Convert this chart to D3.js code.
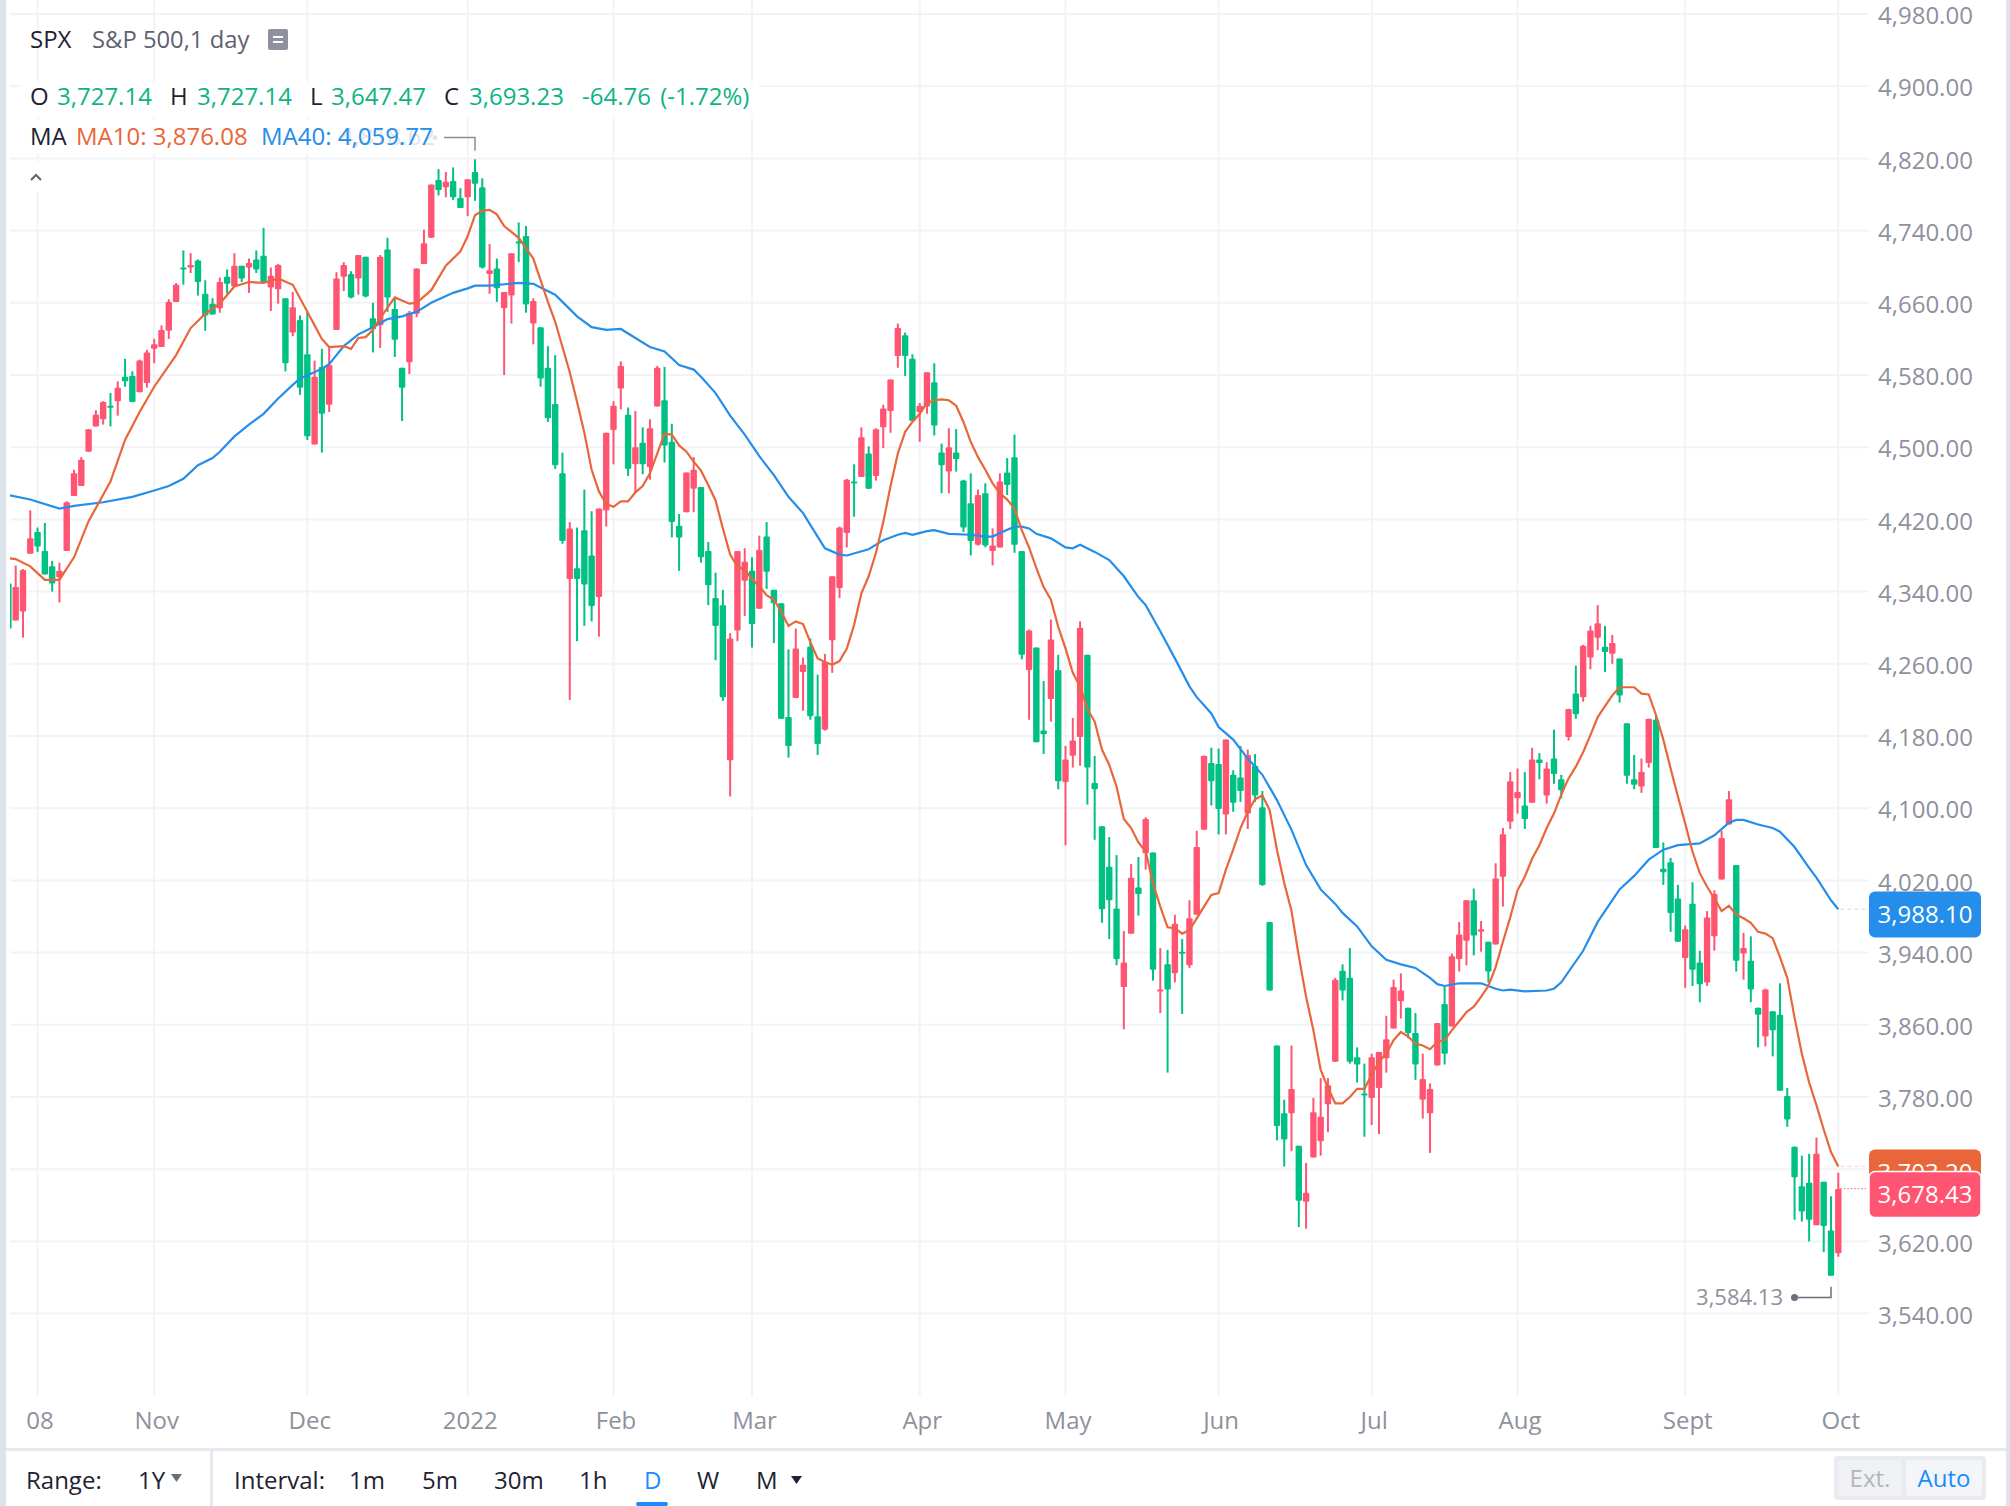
<!DOCTYPE html>
<html><head><meta charset="utf-8">
<style>html,body{margin:0;padding:0;background:#fff;overflow:hidden}svg{display:block}text{font-family:"Open Sans",sans-serif}</style>
<script src="https://cdnjs.cloudflare.com/ajax/libs/d3/7.8.5/d3.min.js"></script>
</head><body><svg id="c" width="2010" height="1506"></svg>
<script>
const opens=[4349,4308,4318,4382,4406,4385,4368,4356,4385,4446,4457,4495,4523,4531,4546,4551,4578,4579,4561,4571,4609,4611,4629,4661,4699,4699,4707,4670,4659,4654,4689,4678,4701,4699,4708,4712,4677,4675,4665,4627,4641,4603,4503,4589,4547,4630,4689,4692,4687,4711,4643,4635,4719,4653,4588,4594,4648,4703,4732,4796,4788,4795,4776,4777,4805,4788,4692,4698,4654,4668,4728,4734,4637,4633,4588,4548,4471,4354,4366,4408,4380,4334,4430,4519,4565,4536,4481,4505,4478,4545,4552,4506,4413,4428,4454,4456,4385,4333,4325,4153,4297,4352,4363,4321,4401,4342,4327,4201,4222,4251,4279,4202,4187,4286,4344,4405,4462,4467,4493,4468,4522,4540,4601,4624,4598,4539,4545,4572,4494,4473,4494,4463,4438,4392,4449,4385,4389,4472,4489,4385,4253,4278,4186,4221,4253,4129,4158,4179,4270,4128,4080,4035,3989,3902,3961,4012,4050,4051,3897,3927,3917,3941,3926,3982,4076,4150,4149,4093,4137,4134,4094,4147,4101,3974,3837,3762,3762,3726,3664,3713,3731,3772,3819,3920,3912,3824,3784,3779,3790,3823,3856,3886,3879,3851,3777,3762,3815,3883,3858,3933,3953,3998,3963,3952,3949,4024,4085,4111,4103,4106,4154,4114,4155,4132,4179,4227,4223,4267,4289,4279,4271,4266,4194,4132,4124,4150,4198,4033,4040,4000,3934,3994,3929,3907,3958,4021,4082,4037,3939,3931,3879,3847,3875,3871,3781,3725,3681,3685,3638,3686,3632,3607];
const closes=[4299,4345,4364,4399,4390,4359,4349,4363,4439,4471,4486,4520,4536,4550,4544,4566,4573,4550,4596,4605,4614,4630,4661,4680,4697,4702,4683,4646,4647,4683,4681,4701,4687,4704,4697,4683,4690,4702,4593,4655,4566,4512,4578,4537,4591,4687,4702,4666,4713,4667,4631,4711,4666,4619,4566,4649,4698,4726,4791,4785,4794,4777,4765,4797,4792,4699,4696,4676,4672,4715,4726,4658,4662,4576,4532,4480,4396,4410,4354,4348,4324,4432,4516,4546,4590,4476,4500,4481,4521,4588,4502,4417,4400,4472,4475,4378,4347,4302,4223,4288,4385,4373,4304,4386,4362,4327,4199,4169,4277,4259,4202,4171,4262,4357,4411,4464,4460,4511,4454,4520,4543,4575,4632,4601,4529,4546,4583,4524,4480,4500,4487,4411,4396,4447,4391,4391,4462,4458,4392,4270,4297,4173,4182,4287,4130,4154,4175,4300,4145,4121,3988,3998,3933,3929,4023,4005,4088,3921,3899,3899,3972,3939,3978,4057,4158,4130,4099,4176,4106,4119,4159,4114,4015,3898,3748,3733,3789,3665,3674,3763,3758,3793,3910,3898,3819,3816,3783,3824,3830,3844,3902,3898,3851,3816,3800,3789,3862,3828,3936,3960,3998,3959,3966,3919,4022,4071,4130,4118,4088,4154,4150,4144,4138,4120,4210,4204,4280,4297,4305,4273,4283,4225,4136,4126,4140,4199,4056,4029,3984,3952,3966,3921,3905,3979,4005,4067,4110,3931,3945,3899,3871,3899,3854,3787,3755,3691,3653,3644,3717,3637,3582,3678];
const highs=[4349,4369,4365,4430,4411,4416,4374,4372,4440,4475,4489,4520,4541,4551,4560,4573,4598,4584,4597,4608,4620,4635,4664,4682,4718,4715,4708,4685,4665,4688,4697,4715,4701,4709,4718,4743,4699,4703,4665,4672,4646,4651,4596,4609,4611,4694,4705,4695,4713,4711,4660,4713,4732,4665,4588,4651,4698,4741,4791,4808,4805,4810,4787,4797,4819,4798,4725,4709,4672,4715,4749,4745,4665,4633,4612,4602,4494,4417,4411,4453,4429,4432,4516,4551,4595,4544,4540,4522,4531,4590,4589,4526,4426,4472,4489,4456,4395,4361,4342,4294,4385,4388,4378,4402,4417,4342,4327,4276,4299,4267,4288,4248,4271,4357,4412,4465,4481,4522,4501,4521,4547,4575,4637,4627,4603,4549,4583,4593,4504,4521,4520,4464,4471,4453,4460,4410,4471,4488,4514,4385,4298,4278,4241,4309,4270,4169,4200,4307,4270,4158,4080,4068,4048,3964,4038,4046,4090,4051,3945,3943,3982,3955,3998,4075,4158,4167,4166,4176,4142,4169,4165,4160,4119,3974,3837,3777,3837,3726,3707,3779,3801,3801,3912,3927,3945,3835,3817,3828,3830,3870,3910,3917,3879,3873,3828,3795,3862,3902,3939,3974,3998,4011,3975,3952,4039,4078,4140,4144,4140,4167,4161,4151,4187,4137,4210,4258,4281,4302,4325,4302,4292,4266,4194,4159,4155,4199,4203,4062,4045,4015,3970,4018,3942,3986,4009,4075,4119,4037,3962,3958,3879,3900,3875,3906,3790,3725,3715,3717,3735,3686,3670,3696];
const lows=[4299,4308,4289,4382,4384,4359,4340,4328,4385,4446,4457,4495,4523,4525,4523,4535,4567,4550,4561,4566,4593,4611,4620,4661,4680,4693,4668,4629,4647,4649,4670,4678,4683,4671,4693,4683,4651,4659,4584,4623,4558,4508,4503,4494,4539,4630,4673,4665,4669,4666,4605,4610,4650,4600,4529,4581,4644,4703,4732,4779,4777,4774,4765,4756,4773,4698,4670,4661,4580,4637,4705,4649,4614,4567,4528,4476,4393,4220,4285,4302,4307,4290,4412,4481,4542,4468,4449,4470,4464,4545,4483,4400,4363,4428,4428,4372,4325,4264,4219,4113,4285,4313,4278,4321,4343,4283,4199,4156,4222,4208,4198,4159,4186,4250,4333,4389,4423,4467,4454,4463,4499,4516,4588,4579,4529,4506,4537,4513,4449,4449,4473,4406,4380,4391,4389,4369,4389,4447,4383,4265,4198,4173,4160,4196,4121,4059,4145,4147,4104,4065,3973,3955,3926,3855,3961,3981,4032,3909,3873,3807,3907,3872,3923,3982,4076,4103,4071,4071,4096,4107,4077,4107,4014,3898,3732,3703,3720,3636,3634,3713,3715,3741,3819,3887,3817,3796,3736,3749,3739,3807,3856,3867,3845,3799,3756,3718,3815,3816,3858,3919,3926,3937,3941,3907,3949,3991,4077,4094,4077,4106,4132,4105,4127,4111,4175,4199,4218,4254,4275,4251,4260,4217,4127,4121,4117,4145,4056,4015,3963,3952,3901,3903,3885,3903,3942,4021,4082,3919,3910,3885,3835,3836,3825,3787,3747,3644,3642,3620,3638,3608,3582,3603];
const ma10=[[0,4377],[1,4376],[3,4368],[5,4353],[7,4353],[9,4378],[11,4418],[14,4462],[16,4508],[18,4539],[20,4567],[23,4602],[25,4632],[27,4648],[29,4659],[31,4678],[33,4683],[35,4682],[37,4687],[39,4680],[41,4650],[42,4635],[43,4620],[44,4611],[46,4612],[47,4609],[48,4621],[49,4622],[50,4630],[51,4643],[53,4666],[55,4659],[56,4660],[58,4674],[60,4701],[62,4717],[63,4734],[64,4757],[65,4762],[66,4763],[67,4758],[68,4745],[70,4732],[72,4709],[74,4661],[75,4639],[77,4583],[78,4550],[79,4516],[80,4475],[81,4451],[82,4437],[83,4434],[84,4440],[85,4440],[86,4450],[87,4457],[88,4471],[90,4515],[91,4514],[92,4502],[93,4495],[94,4484],[95,4474],[96,4458],[97,4441],[98,4410],[99,4381],[100,4368],[101,4364],[102,4354],[103,4346],[104,4336],[105,4331],[106,4318],[107,4302],[108,4307],[109,4304],[110,4284],[111,4266],[112,4262],[113,4259],[114,4263],[115,4277],[116,4303],[117,4338],[118,4357],[119,4383],[120,4417],[121,4457],[122,4493],[123,4517],[124,4528],[125,4537],[126,4549],[127,4552],[128,4553],[129,4552],[130,4546],[131,4528],[132,4506],[133,4489],[134,4475],[135,4460],[136,4449],[137,4442],[138,4432],[139,4408],[140,4389],[141,4366],[142,4345],[143,4331],[144,4301],[145,4277],[146,4250],[147,4235],[148,4210],[149,4196],[150,4165],[151,4148],[152,4124],[153,4088],[154,4078],[155,4062],[156,4052],[157,4017],[158,3991],[159,3968],[160,3967],[161,3961],[162,3965],[163,3978],[164,3991],[165,4004],[166,4006],[167,4032],[168,4054],[169,4078],[170,4096],[171,4110],[172,4114],[173,4098],[174,4054],[175,4017],[176,3986],[177,3936],[178,3891],[179,3854],[180,3810],[181,3790],[182,3773],[183,3773],[184,3780],[185,3789],[186,3789],[187,3805],[188,3819],[189,3828],[190,3843],[191,3852],[192,3847],[193,3839],[194,3837],[195,3833],[196,3841],[197,3843],[198,3854],[199,3864],[200,3874],[201,3880],[202,3891],[203,3903],[204,3924],[205,3952],[206,3979],[207,4009],[208,4024],[209,4044],[210,4059],[211,4078],[212,4094],[213,4115],[214,4133],[215,4146],[216,4162],[217,4181],[218,4201],[219,4213],[220,4225],[221,4234],[222,4234],[223,4234],[224,4227],[225,4226],[226,4203],[227,4176],[228,4144],[229,4113],[230,4083],[231,4052],[232,4028],[233,4013],[234,4000],[235,3986],[236,3992],[237,3982],[238,3978],[239,3973],[240,3963],[241,3961],[242,3956],[243,3935],[244,3912],[245,3868],[246,3828],[247,3796],[248,3771],[249,3744],[250,3719],[251,3703]];
const ma40=[[0,4447],[3,4442],[7,4432],[9,4435],[13,4439],[17,4445],[20,4452],[22,4457],[24,4465],[26,4480],[28,4488],[29,4495],[31,4512],[33,4525],[35,4537],[37,4554],[39,4569],[40,4576],[43,4587],[44,4592],[46,4612],[48,4625],[50,4633],[52,4642],[54,4645],[56,4650],[58,4660],[61,4671],[63,4676],[64,4679],[66,4679],[70,4682],[72,4681],[73,4677],[75,4669],[77,4653],[78,4645],[80,4633],[82,4630],[84,4631],[86,4621],[88,4611],[90,4606],[92,4591],[94,4586],[95,4578],[97,4560],[99,4535],[101,4514],[103,4490],[105,4469],[107,4445],[109,4427],[111,4401],[112,4388],[114,4381],[115,4380],[118,4387],[120,4397],[122,4403],[123,4405],[124,4403],[126,4407],[127,4408],[129,4404],[132,4403],[134,4401],[135,4401],[136,4405],[138,4412],[139,4412],[140,4410],[141,4404],[143,4399],[145,4389],[146,4388],[147,4392],[149,4384],[151,4375],[153,4357],[155,4334],[156,4325],[158,4296],[160,4266],[162,4235],[163,4223],[165,4205],[166,4190],[168,4176],[170,4155],[172,4137],[174,4109],[176,4076],[178,4037],[180,4010],[182,3994],[183,3984],[185,3969],[187,3947],[189,3932],[191,3927],[193,3923],[195,3912],[196,3905],[197,3903],[199,3906],[202,3906],[204,3900],[205,3898],[206,3899],[208,3897],[211,3898],[212,3900],[213,3907],[216,3942],[218,3974],[221,4010],[223,4025],[225,4043],[227,4054],[229,4059],[232,4061],[234,4070],[236,4084],[237,4087],[238,4087],[240,4082],[242,4078],[243,4074],[245,4057],[247,4034],[248,4023],[250,3998],[251,3988]];
const monthAt=[4,20,41,63,83,102,125,145,166,187,207,230,251];
const monthLabels=["08","Nov","Dec","2022","Feb","Mar","Apr","May","Jun","Jul","Aug","Sept","Oct"];
const priceTicks=[4980,4900,4820,4740,4660,4580,4500,4420,4340,4260,4180,4100,4020,3940,3860,3780,3700,3620,3540];
const lastMA40=3988.10, lastMA10=3703.20, lastClose=3678.43, periodHigh=4818.62, periodLow=3584.13;

const RED="#ff5572",GREEN="#00c084",TEXTGREEN="#0db383",ORANGE="#e8663a",BLUE="#248eea",GRID="#f2f3f7",AXIS="#8f919d",INK="#1f2233";
const svg=d3.select("#c");
const x=d3.scaleLinear().domain([0,251]).range([8.4,1838.3]);
const y=d3.scaleLinear().domain([3540,4980]).range([1313.6,14]);
const fmt=d3.format(",.2f");
const T=(g,px,py,s,fill,size,anchor)=>g.append("text").attr("x",px).attr("y",py).attr("dy","0.36em").attr("fill",fill).attr("font-size",size||24).attr("text-anchor",anchor||"start").text(s);

svg.append("defs").append("clipPath").attr("id","plot").append("rect").attr("x",10).attr("y",0).attr("width",1859).attr("height",1396);

// grid
const grid=svg.append("g").attr("stroke",GRID).attr("stroke-width",2);
grid.selectAll(".h").data(priceTicks).join("line").attr("x1",10).attr("x2",1869).attr("y1",d=>y(d)).attr("y2",d=>y(d));
grid.selectAll(".v").data(monthAt).join("line").attr("x1",d=>x(d)).attr("x2",d=>x(d)).attr("y1",0).attr("y2",1396);

// candles
const plot=svg.append("g").attr("clip-path","url(#plot)");
const cg=plot.selectAll("g.k").data(opens.map((o,i)=>i)).join("g");
const col=i=>closes[i]>=opens[i]?RED:GREEN;
cg.append("line").attr("x1",x).attr("x2",x).attr("y1",i=>y(highs[i])).attr("y2",i=>y(lows[i])).attr("stroke",col).attr("stroke-width",2);
cg.append("rect").attr("x",i=>x(i)-3.2).attr("width",6.4).attr("y",i=>y(Math.max(opens[i],closes[i]))).attr("height",i=>Math.max(2,Math.abs(y(opens[i])-y(closes[i])))).attr("rx",1).attr("fill",col);

// MA lines
const line=d3.line().x(d=>x(d[0])).y(d=>y(d[1]));
plot.append("path").attr("d",line(ma40)).attr("fill","none").attr("stroke",BLUE).attr("stroke-width",2.2);
plot.append("path").attr("d",line(ma10)).attr("fill","none").attr("stroke",ORANGE).attr("stroke-width",2.2);

// axes
const yAxis=d3.axisRight(y).tickValues(priceTicks).tickSize(0).tickPadding(0).tickFormat(fmt);
const ya=svg.append("g").attr("transform","translate(1878,2)").call(yAxis);
ya.select(".domain").remove();
ya.selectAll("text").attr("fill",AXIS).attr("font-size",24).attr("font-family","Open Sans");
const xAxis=d3.axisBottom(x).tickValues(monthAt).tickSize(0).tickPadding(0).tickFormat(d=>monthLabels[monthAt.indexOf(d)]);
const xa=svg.append("g").attr("transform","translate(2,1412)").call(xAxis);
xa.select(".domain").remove();
xa.selectAll("text").attr("fill",AXIS).attr("font-size",24).attr("font-family","Open Sans");

// legend backdrops
const ui=svg.append("g");
ui.append("rect").attr("x",20).attr("y",82).attr("width",740).attr("height",36).attr("fill","#fff").attr("fill-opacity",.85);
ui.append("rect").attr("x",20).attr("y",120).attr("width",420).attr("height",34).attr("fill","#fff").attr("fill-opacity",.85);
ui.append("rect").attr("x",26).attr("y",162).attr("width",22).attr("height",30).attr("fill","#fff");

T(ui,30,39,"SPX",INK);
T(ui,92,39,"S&P 500,1 day","#5f6170",23.8);
ui.append("rect").attr("x",268).attr("y",29).attr("width",20).attr("height",21).attr("rx",2).attr("fill",AXIS);
ui.append("path").attr("d","M273 37H283M273 42H283").attr("stroke","#fff").attr("stroke-width",2);
T(ui,30,96,"O",INK);T(ui,57,96,"3,727.14",TEXTGREEN);
T(ui,170,96,"H",INK);T(ui,197,96,"3,727.14",TEXTGREEN);
T(ui,310,96,"L",INK);T(ui,331,96,"3,647.47",TEXTGREEN);
T(ui,444,96,"C",INK);T(ui,469,96,"3,693.23",TEXTGREEN);
T(ui,582,96,"-64.76 (-1.72%)",TEXTGREEN).attr("word-spacing",3);
T(ui,340,136,fmt(periodHigh),"#e4e5ea");
T(ui,30,136,"MA",INK);
T(ui,76,136,"MA10: 3,876.08",ORANGE);
T(ui,261,136,"MA40: 4,059.77",BLUE);
ui.append("circle").attr("cx",435).attr("cy",137.5).attr("r",2.5).attr("fill","#e4e5ea");
ui.append("path").attr("d",`M444 137.5H${x(64)}V${y(periodHigh)-9}`).attr("fill","none").attr("stroke","#8b8d99").attr("stroke-width",1.5);
ui.append("path").attr("d","M31 180L36 175L41 180").attr("fill","none").attr("stroke","#5f6170").attr("stroke-width",2);

// low callout
T(ui,1783,1297.5,fmt(periodLow),AXIS,22,"end");
ui.append("circle").attr("cx",1794.5).attr("cy",1297.5).attr("r",3.5).attr("fill","#6c6e7c");
ui.append("path").attr("d",`M1794 1297.5H${x(250)}V${y(periodLow)+13}`).attr("fill","none").attr("stroke","#6c6e7c").attr("stroke-width",1.5);

// last value tags
const tag=(v,color,cy)=>{
  svg.append("line").attr("x1",x(251)+2).attr("x2",1866).attr("y1",y(v)).attr("y2",y(v)).attr("stroke",color).attr("stroke-opacity",color===RED?1:.3).attr("stroke-width",1).attr("stroke-dasharray",color===RED?"1.5 2":"4 3");
  svg.append("rect").attr("x",1869).attr("y",cy-23).attr("width",112).attr("height",46).attr("rx",6).attr("fill",color).attr("stroke",color===RED?"#fff":"none").attr("stroke-width",1.5);
  T(svg,1925,cy,fmt(v),"#fff",24,"middle");
};
tag(lastMA40,BLUE,914.5);
tag(lastMA10,ORANGE,1172.5);
tag(lastClose,RED,1194.5);

// bottom bar
const bar=svg.append("g");
bar.append("rect").attr("x",0).attr("y",1450).attr("width",2010).attr("height",56).attr("fill","#fff");
bar.append("rect").attr("x",6).attr("y",1448).attr("width",2000).attr("height",3).attr("fill","#e6eaf0");
bar.append("rect").attr("x",210).attr("y",1450).attr("width",3).attr("height",56).attr("fill","#e6eaf0");
T(bar,26,1480,"Range:",INK);T(bar,138,1480,"1Y",INK);
bar.append("path").attr("d","M171 1474H182L176.5 1482Z").attr("fill","#6c6e7c");
T(bar,234,1480,"Interval:",INK);T(bar,349,1480,"1m",INK);T(bar,422,1480,"5m",INK);T(bar,494,1480,"30m",INK);T(bar,579,1480,"1h",INK);
T(bar,644,1480,"D","#1a8cff");
bar.append("rect").attr("x",636).attr("y",1502).attr("width",32).attr("height",4).attr("rx",2).attr("fill","#1a8cff");
T(bar,697,1480,"W",INK);T(bar,756,1480,"M",INK);
bar.append("path").attr("d","M791 1476H802L796.5 1484Z").attr("fill",INK);
bar.append("rect").attr("x",1834).attr("y",1456).attr("width",152).attr("height",44).attr("rx",4).attr("fill","#e9ebf0");
bar.append("rect").attr("x",1838).attr("y",1460).attr("width",64).attr("height",36).attr("rx",3).attr("fill","#f0f1f4");
bar.append("rect").attr("x",1906).attr("y",1460).attr("width",76).attr("height",36).attr("rx",3).attr("fill","#f4f5f9");
T(bar,1870,1478,"Ext.","#b4b6bf",24,"middle");
T(bar,1944,1478,"Auto","#1a8cff",24,"middle");

// window edges
svg.append("rect").attr("x",0).attr("y",0).attr("width",6).attr("height",1506).attr("fill","#dde3ea");
svg.append("rect").attr("x",2006).attr("y",0).attr("width",4).attr("height",1506).attr("fill","#dde3ea");
</script></body></html>
